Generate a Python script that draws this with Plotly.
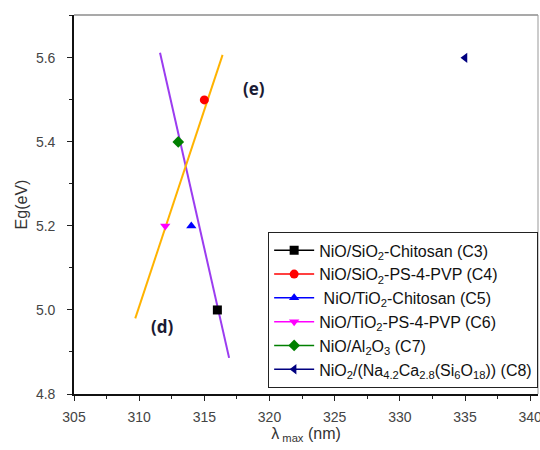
import plotly.graph_objects as go

# Sample points: band gap vs absorption maximum
names = [
    "NiO/SiO<sub>2</sub>-Chitosan (C3)",
    "NiO/SiO<sub>2</sub>-PS-4-PVP (C4)",
    " NiO/TiO<sub>2</sub>-Chitosan (C5)",
    "NiO/TiO<sub>2</sub>-PS-4-PVP (C6)",
    "NiO/Al<sub>2</sub>O<sub>3</sub> (C7)",
    "NiO<sub>2</sub>/(Na<sub>4.2</sub>Ca<sub>2.8</sub>(Si<sub>6</sub>O<sub>18</sub>)) (C8)",
]
lambda_max = [316, 315, 314, 312, 313, 335]
eg = [5.0, 5.5, 5.2, 5.2, 5.4, 5.6]
colors = ["#000000", "#ff0000", "#0000ff", "#ff00ff", "#008000", "#000080"]
symbols = ["square", "circle", "triangle-up", "triangle-down", "diamond", "triangle-left"]

# Trend lines (d) and (e)
line_d_x = [311.6, 316.9]
line_d_y = [5.612, 4.886]
line_e_x = [309.7, 316.4]
line_e_y = [4.98, 5.607]

fig = go.Figure()

fig.add_trace(go.Scatter(x=line_d_x, y=line_d_y, mode="lines",
                         line=dict(color="#9b3cf0", width=2), showlegend=False))
fig.add_trace(go.Scatter(x=line_e_x, y=line_e_y, mode="lines",
                         line=dict(color="#ffb300", width=2), showlegend=False))

for i in range(len(names)):
    fig.add_trace(go.Scatter(
        x=[lambda_max[i]], y=[eg[i]], mode="lines+markers", name=names[i],
        legendgroup=str(i),
        line=dict(color=colors[i], width=1.5),
        marker=dict(color=colors[i], symbol=symbols[i], size=9),
    ))

fig.add_annotation(x=318.8, y=5.527, text="<b>(e)</b>", showarrow=False,
                   font=dict(family="Open Sans", size=17, color="#1a1a33"))
fig.add_annotation(x=311.8, y=4.96, text="<b>(d)</b>", showarrow=False,
                   font=dict(family="Open Sans", size=17, color="#1a1a33"))

# thin gray top/right frame
fig.add_shape(type="line", xref="paper", yref="paper", x0=0, x1=1, y0=1, y1=1,
              line=dict(color="#555555", width=1.2))
fig.add_shape(type="line", xref="paper", yref="paper", x0=1, x1=1, y0=0, y1=1,
              line=dict(color="#999999", width=1))

axis_font = dict(family="Liberation Sans, Arial", size=14, color="#444444")

fig.update_layout(
    width=540, height=450,
    margin=dict(l=74, r=2, t=15, b=56, autoexpand=False),
    paper_bgcolor="white", plot_bgcolor="white",
    font=dict(family="Liberation Sans, Arial", color="#222222"),
    xaxis=dict(
        range=[305, 340.6], tick0=305, dtick=5, ticks="outside", ticklen=5,
        tickcolor="#222", tickwidth=1.2, ticklabeloverflow="allow",
        ticklabelstandoff=4,
        minor=dict(dtick=2.5, ticks="outside", ticklen=3, tickcolor="#222"),
        showgrid=False, zeroline=False, showline=True, linecolor="#111", linewidth=1.6,
        tickfont=axis_font,
        title=dict(text="λ<sub> max</sub> (nm)", font=dict(size=16, color="#333"), standoff=4),
    ),
    yaxis=dict(
        range=[4.8, 5.702], tick0=4.8, dtick=0.2, tickformat=".1f",
        ticks="outside", ticklen=5, tickcolor="#222", tickwidth=1.2,
        ticklabelstandoff=9,
        minor=dict(dtick=0.1, ticks="outside", ticklen=3, tickcolor="#222"),
        showgrid=False, zeroline=False, showline=True, linecolor="#111", linewidth=1.6,
        tickfont=axis_font,
        title=dict(text="Eg(eV)", font=dict(size=16, color="#333"), standoff=4),
    ),
    legend=dict(
        x=0.418, y=0.427, xanchor="left", yanchor="top",
        bordercolor="#222", borderwidth=1.2, bgcolor="white",
        font=dict(family="Liberation Sans, Arial", size=16, color="#111"),
        traceorder="grouped", tracegroupgap=0, itemwidth=40,
    ),
)

fig.write_html("out.html")
